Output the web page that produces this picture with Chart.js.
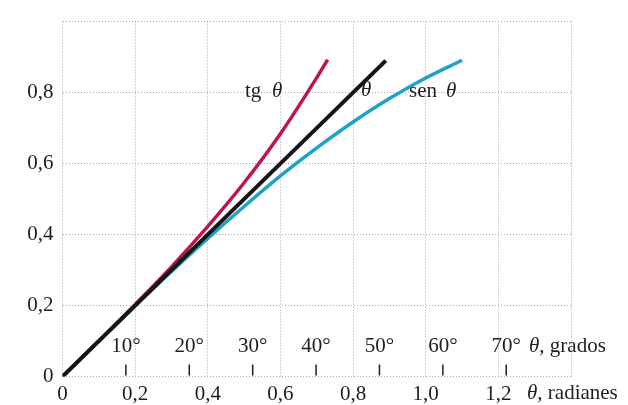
<!DOCTYPE html>
<html><head><meta charset="utf-8">
<script src="https://cdn.jsdelivr.net/npm/chart.js@4"></script>
<style>html,body{margin:0;padding:0;background:#fff}#wrap{width:628px;height:405px}</style>
</head><body><div id="wrap"><canvas id="c" width="628" height="405"></canvas></div>
<script>
// θ (radians) line
const thetaX = [0, 0.89];
const thetaY = [0, 0.89];
// sen θ curve
const senX = [0, 0.1, 0.2, 0.3, 0.4, 0.5, 0.6, 0.7, 0.8, 0.9, 1.0, 1.1];
const senY = [0, 0.100, 0.199, 0.296, 0.389, 0.479, 0.565, 0.644, 0.717, 0.783, 0.841, 0.891];
// tg θ curve
const tgX = [0, 0.1, 0.2, 0.3, 0.4, 0.5, 0.6, 0.7, 0.73];
const tgY = [0, 0.100, 0.203, 0.309, 0.423, 0.546, 0.684, 0.842, 0.893];
// degree scale
const degreeValues = [10, 20, 30, 40, 50, 60, 70];
const degreeLabels = ['10°', '20°', '30°', '40°', '50°', '60°', '70°'];
const xTickValues = [0, 0.2, 0.4, 0.6, 0.8, 1.0, 1.2];
const yTickValues = [0, 0.2, 0.4, 0.6, 0.8];

const pts = (xs, ys) => xs.map((x, i) => ({x, y: ys[i]}));
const fmt = v => v === 0 ? '0' : v.toFixed(1).replace('.', ',');
const SERIF = '"Liberation Serif", "DejaVu Serif", serif';
const FS = 21;

const overlay = {
  id: 'overlay',
  afterDraw(chart) {
    const ctx = chart.ctx, xs = chart.scales.x, ys = chart.scales.y;
    const y0 = ys.getPixelForValue(0);
    ctx.save();
    ctx.fillStyle = '#1e1e1e'; ctx.strokeStyle = '#1e1e1e'; ctx.lineWidth = 1.5;
    ctx.textAlign = 'center'; ctx.textBaseline = 'middle';
    ctx.font = FS + 'px ' + SERIF;
    degreeValues.forEach((d, i) => {
      const px = xs.getPixelForValue(d * Math.PI / 180);
      ctx.beginPath(); ctx.moveTo(px, y0 - 12); ctx.lineTo(px, y0 - 1); ctx.stroke();
      ctx.fillText(degreeLabels[i], px, y0 - 30);
    });
    ctx.textAlign = 'left';
    const drawMixed = (parts, x, y) => {
      parts.forEach(([t, it]) => {
        ctx.font = (it ? 'italic ' : '') + FS + 'px ' + SERIF;
        ctx.fillText(t, x, y);
        x += ctx.measureText(t).width;
      });
    };
    drawMixed([['θ', true], [', grados', false]], 529, y0 - 30);
    drawMixed([['θ', true], [', radianes', false]], 527, y0 + 17);
    drawMixed([['tg', false]], 245, 91);
    drawMixed([['θ', true]], 272, 91);
    drawMixed([['θ', true]], 361, 90);
    drawMixed([['sen', false]], 409, 91);
    drawMixed([['θ', true]], 446, 91);
    ctx.restore();
  }
};

new Chart(document.getElementById('c'), {
  type: 'line',
  data: {
    datasets: [
      {label: 'θ', data: pts(thetaX, thetaY), borderColor: '#161616', borderWidth: 4, pointRadius: 0, borderCapStyle: 'butt'},
      {label: 'sen θ', data: pts(senX, senY), borderColor: '#1ea3c6', borderWidth: 3.5, pointRadius: 0, cubicInterpolationMode: 'monotone'},
      {label: 'tg θ', data: pts(tgX, tgY), borderColor: '#bd164d', borderWidth: 3.5, pointRadius: 0, cubicInterpolationMode: 'monotone'}
    ]
  },
  options: {
    responsive: false, animation: false,
    layout: {padding: {top: 8, right: 57, left: 0, bottom: 0}},
    plugins: {legend: {display: false}, tooltip: {enabled: false}},
    scales: {
      x: {
        type: 'linear', min: 0, max: 1.4,
        afterBuildTicks: s => { s.ticks = [0,0.2,0.4,0.6,0.8,1.0,1.2,1.4].map(v => ({value: v})); },
        afterFit: s => { s.height = 28.5; },
        grid: {color: '#a9a9a9', lineWidth: 1, drawTicks: false, tickLength: 0},
        border: {display: false, dash: [1, 2]},
        ticks: {padding: 5, color: '#1e1e1e', font: {family: SERIF, size: FS}, maxRotation: 0,
          callback: v => xTickValues.some(t => Math.abs(t - v) < 1e-6) ? fmt(v) : ''}
      },
      y: {
        type: 'linear', min: 0, max: 1.0,
        afterBuildTicks: s => { s.ticks = [0,0.2,0.4,0.6,0.8,1.0].map(v => ({value: v})); },
        afterFit: s => { s.width = 62.5; },
        grid: {color: '#a9a9a9', lineWidth: 1, drawTicks: false, tickLength: 0},
        border: {display: false, dash: [1, 2]},
        ticks: {padding: 9, color: '#1e1e1e', font: {family: SERIF, size: FS},
          callback: v => yTickValues.some(t => Math.abs(t - v) < 1e-6) ? fmt(v) : ''}
      }
    }
  },
  plugins: [overlay]
});
</script>
</body></html>
